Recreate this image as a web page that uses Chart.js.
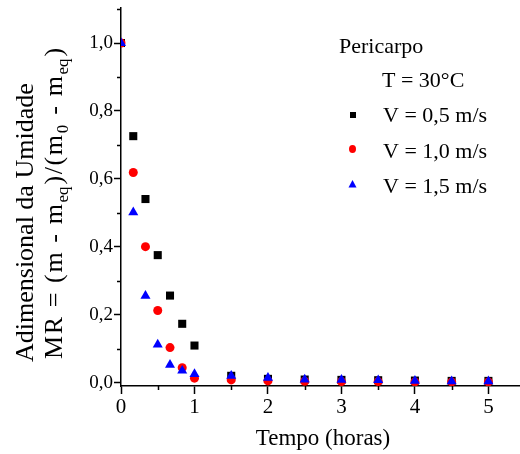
<!DOCTYPE html>
<html lang="pt">
<head>
    <meta charset="UTF-8">
    <title>Pericarpo - MR x Tempo</title>
    <script src="https://cdn.jsdelivr.net/npm/chart.js"></script>
    <style>
        body {
            margin: 0;
            padding: 0;
            background: #fff;
        }
        canvas {
            display: block;
        }
    </style>
</head>
<body>
    <canvas id="grafico" width="520" height="454"></canvas>

    <script>
        // Dados
        const tempos = [0, 0.167, 0.333, 0.5, 0.667, 0.833, 1.0, 1.5, 2, 2.5, 3, 3.5, 4, 4.5, 5];
        const mrV05 = [1.0, 0.726, 0.541, 0.376, 0.257, 0.174, 0.110, 0.021, 0.012, 0.010, 0.009, 0.008, 0.007, 0.006, 0.006];
        const mrV10 = [1.0, 0.619, 0.401, 0.213, 0.104, 0.045, 0.014, 0.009, 0.006, 0.005, 0.004, 0.004, 0.003, 0.003, 0.003];
        const mrV15 = [1.0, 0.502, 0.256, 0.113, 0.053, 0.036, 0.026, 0.021, 0.015, 0.010, 0.009, 0.008, 0.006, 0.005, 0.005];

        const rotulos = ['V = 0,5 m/s', 'V = 1,0 m/s', 'V = 1,5 m/s'];
        const xTicks = [0, 1, 2, 3, 4, 5];
        const xMinor = [0.5, 1.5, 2.5, 3.5, 4.5];
        const yTicks = [0, 0.2, 0.4, 0.6, 0.8, 1.0];
        const yMinor = [0.1, 0.3, 0.5, 0.7, 0.9, 1.1];

        const fonte = '"Liberation Serif", "Times New Roman", serif';

        function pontos(valores) {
            return tempos.map((t, i) => ({ x: t, y: valores[i] }));
        }

        // Títulos, legenda e ticks menores
        const extras = {
            id: 'extras',
            afterDraw(chart) {
                const ctx = chart.ctx;
                const sx = chart.scales.x;
                const sy = chart.scales.y;
                ctx.save();
                ctx.strokeStyle = '#000';
                ctx.lineWidth = 1.5;
                ctx.beginPath();
                yMinor.forEach(v => {
                    const py = Math.round(sy.getPixelForValue(v)) + 0.5;
                    if (py < chart.chartArea.top) return;
                    ctx.moveTo(sx.left - 4, py);
                    ctx.lineTo(sx.left, py);
                });
                xMinor.forEach(v => {
                    const px = Math.round(sx.getPixelForValue(v)) + 0.5;
                    ctx.moveTo(px, sy.bottom);
                    ctx.lineTo(px, sy.bottom + 4);
                });
                ctx.stroke();

                ctx.fillStyle = '#000';
                ctx.textBaseline = 'alphabetic';

                // título do eixo x
                ctx.font = '23px ' + fonte;
                ctx.textAlign = 'center';
                ctx.fillText('Tempo (horas)', 323, 445);

                // título do eixo y (duas linhas, girado)
                ctx.textAlign = 'left';
                ctx.save();
                ctx.translate(33, 362);
                ctx.rotate(-Math.PI / 2);
                ctx.font = '26px ' + fonte;
                ctx.fillText('Adimensional da Umidade', 0, 0);
                ctx.restore();

                const partes = [
                    ['MR = (m - m', false], ['eq', true], [')/(m', false],
                    ['0', true], [' - m', false], ['eq', true], [')', false]
                ];
                ctx.save();
                ctx.translate(62, 359);
                ctx.rotate(-Math.PI / 2);
                let pos = 0;
                partes.forEach(([txt, sub]) => {
                    ctx.font = (sub ? '17px ' : '26px ') + fonte;
                    ctx.letterSpacing = sub ? '0px' : '1.6px';
                    ctx.fillText(txt, pos, sub ? 6 : 0);
                    pos += ctx.measureText(txt).width + (sub ? 2 : 0);
                });
                ctx.letterSpacing = '0px';
                ctx.restore();

                // legenda
                ctx.font = '22px ' + fonte;
                ctx.fillText('Pericarpo', 339, 53);
                ctx.fillText('T = 30°C', 382, 87);
                const linhas = [122, 158, 193];
                rotulos.forEach((r, i) => ctx.fillText(r, 383, linhas[i]));

                ctx.fillStyle = '#000';
                ctx.fillRect(350, 112, 6, 6);
                ctx.fillStyle = '#ff0000';
                ctx.beginPath();
                ctx.ellipse(352.5, 149, 3.5, 4, 0, 0, Math.PI * 2);
                ctx.fill();
                ctx.fillStyle = '#0000ff';
                ctx.beginPath();
                ctx.moveTo(352.5, 180);
                ctx.lineTo(356.5, 187.5);
                ctx.lineTo(348.5, 187.5);
                ctx.closePath();
                ctx.fill();
                ctx.restore();
            }
        };

        const ctx = document.getElementById('grafico').getContext('2d');
        new Chart(ctx, {
            type: 'scatter',
            data: {
                datasets: [
                    {
                        label: rotulos[0],
                        data: pontos(mrV05),
                        pointStyle: 'rect',
                        pointRadius: 5.7,
                        pointHoverRadius: 5.7,
                        backgroundColor: '#000',
                        borderColor: '#000',
                        borderWidth: 0,
                        order: 3
                    },
                    {
                        label: rotulos[1],
                        data: pontos(mrV10),
                        pointStyle: 'circle',
                        pointRadius: 4.5,
                        pointHoverRadius: 4.5,
                        backgroundColor: '#ff0000',
                        borderColor: '#ff0000',
                        borderWidth: 0,
                        order: 2
                    },
                    {
                        label: rotulos[2],
                        data: pontos(mrV15),
                        pointStyle: 'triangle',
                        pointRadius: 5.8,
                        pointHoverRadius: 5.8,
                        backgroundColor: '#0000ff',
                        borderColor: '#0000ff',
                        borderWidth: 0,
                        order: 1
                    }
                ]
            },
            options: {
                responsive: false,
                animation: false,
                layout: { autoPadding: false, padding: { top: 8, left: 0, right: 0, bottom: 0 } },
                plugins: {
                    legend: { display: false },
                    tooltip: { enabled: false }
                },
                scales: {
                    x: {
                        type: 'linear',
                        min: 0,
                        max: 5.43,
                        afterFit(scale) {
                            scale.height = 68;
                            scale.paddingLeft = 0;
                            scale.paddingRight = 0;
                        },
                        afterBuildTicks(scale) { scale.ticks = xTicks.map(v => ({ value: v })); },
                        ticks: {
                            color: '#000',
                            padding: 1,
                            font: { family: fonte, size: 21 },
                            callback: v => String(v)
                        },
                        grid: {
                            drawOnChartArea: false,
                            drawTicks: true,
                            tickLength: 8,
                            tickWidth: 1.5,
                            tickColor: '#000'
                        },
                        border: { display: true, color: '#000', width: 1.5 }
                    },
                    y: {
                        type: 'linear',
                        min: -0.009,
                        max: 1.103,
                        afterFit(scale) {
                            scale.width = 121;
                            scale.paddingTop = 0;
                            scale.paddingBottom = 0;
                        },
                        afterBuildTicks(scale) { scale.ticks = yTicks.map(v => ({ value: v })); },
                        ticks: {
                            color: '#000',
                            padding: 1,
                            font: { family: fonte, size: 19 },
                            callback: v => v.toFixed(1).replace('.', ',')
                        },
                        grid: {
                            drawOnChartArea: false,
                            drawTicks: true,
                            tickLength: 7,
                            tickWidth: 1.5,
                            tickColor: '#000'
                        },
                        border: { display: true, color: '#000', width: 1.5 }
                    }
                }
            },
            plugins: [extras]
        });
    </script>
</body>
</html>
